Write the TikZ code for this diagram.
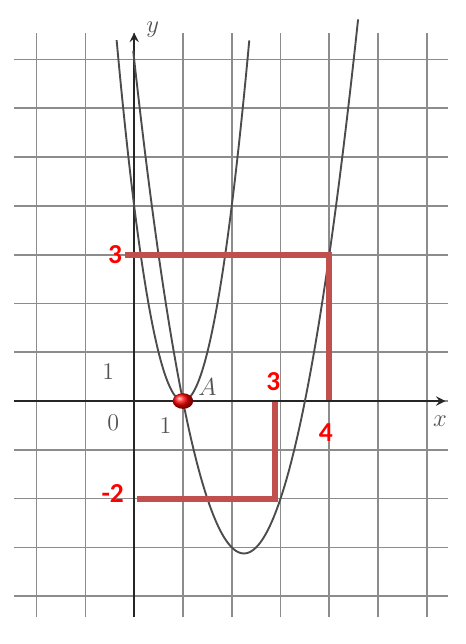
\documentclass[tikz,border=0pt]{standalone}
\usepackage{fontspec}
\setsansfont{Carlito}
\usetikzlibrary{arrows.meta}
\definecolor{markred}{RGB}{192,80,77}

\begin{document}
\begin{tikzpicture}[
        gridline/.style={black!45, line width=1pt},
        axis/.style={->, >=stealth, black!85, line width=1.4pt},
        curve/.style={black!70, line width=1.1pt, smooth, samples=80},
        redline/.style={draw=markred, line width=3.5pt},
        redlabel/.style={text=red, font=\sffamily\bfseries\fontsize{16}{19}\selectfont},
        printlabel/.style={text=gray!65!black, font=\fontsize{14}{16}\selectfont}
    ]
%
    % Frame
    \path[fill=white] (-2.75,-4.98) rectangle (6.80,8.22);
    \useasboundingbox (-2.75,-4.98) rectangle (6.80,8.22);
%
    % Grid
    \foreach \x in {-2,...,6} \draw[gridline] (\x,-4.43) -- (\x,7.54);
    \foreach \y in {-4,...,7} \draw[gridline] (-2.46,\y) -- (6.43,\y);
%
    % Axes
    \coordinate (xleft) at (-2.46,0);
    \coordinate (xright) at (6.38,0);
    \coordinate (ybottom) at (0,-4.43);
    \coordinate (ytop) at (0,7.55);
    \draw[axis] (xleft) -- (xright);
    \draw[axis] (ybottom) -- (ytop);
    \node[printlabel] (xname) at (6.27,-0.42) {$x$};
    \node[printlabel] (yname) at (0.38,7.62) {$y$};
    \node[printlabel] (origin) at (-0.43,-0.45) {0};
    \node[printlabel] (yone) at (-0.53,0.6) {1};
    \node[printlabel] (xone) at (0.64,-0.5) {1};
%
    % Parabolas
    \draw[curve, domain=-0.36:2.36] plot (\x,{4*(\x-1)^2});
    \draw[curve, domain=-0.02:4.59] plot (\x,{2*\x^2-9*\x+7});
%
    % Point A
    \coordinate (A) at (1,0);
    \shade[ball color=red] (A) ellipse (0.21 and 0.16);
    \node[printlabel] (Aname) at (1.5,0.28) {$A$};
%
    % Red marks
    \coordinate (leftthree) at (-0.18,3);
    \coordinate (cornerfour) at (4,3);
    \coordinate (footfour) at (4,0.02);
    \coordinate (leftminus) at (0.06,-2);
    \coordinate (cornerthree) at (2.88,-2);
    \coordinate (footthree) at (2.88,-0.02);
    \draw[redline] (leftthree) -- (cornerfour) -- (footfour);
    \draw[redline] (leftminus) -- (cornerthree) -- (footthree);
    \node[redlabel] (ythree) at (-0.39,3.0) {3};
    \node[redlabel] (xfour) at (3.93,-0.64) {4};
    \node[redlabel] (xthree) at (2.85,0.39) {3};
    \node[redlabel] (yminus) at (-0.44,-1.9) {-2};
%
\end{tikzpicture}
\end{document}
